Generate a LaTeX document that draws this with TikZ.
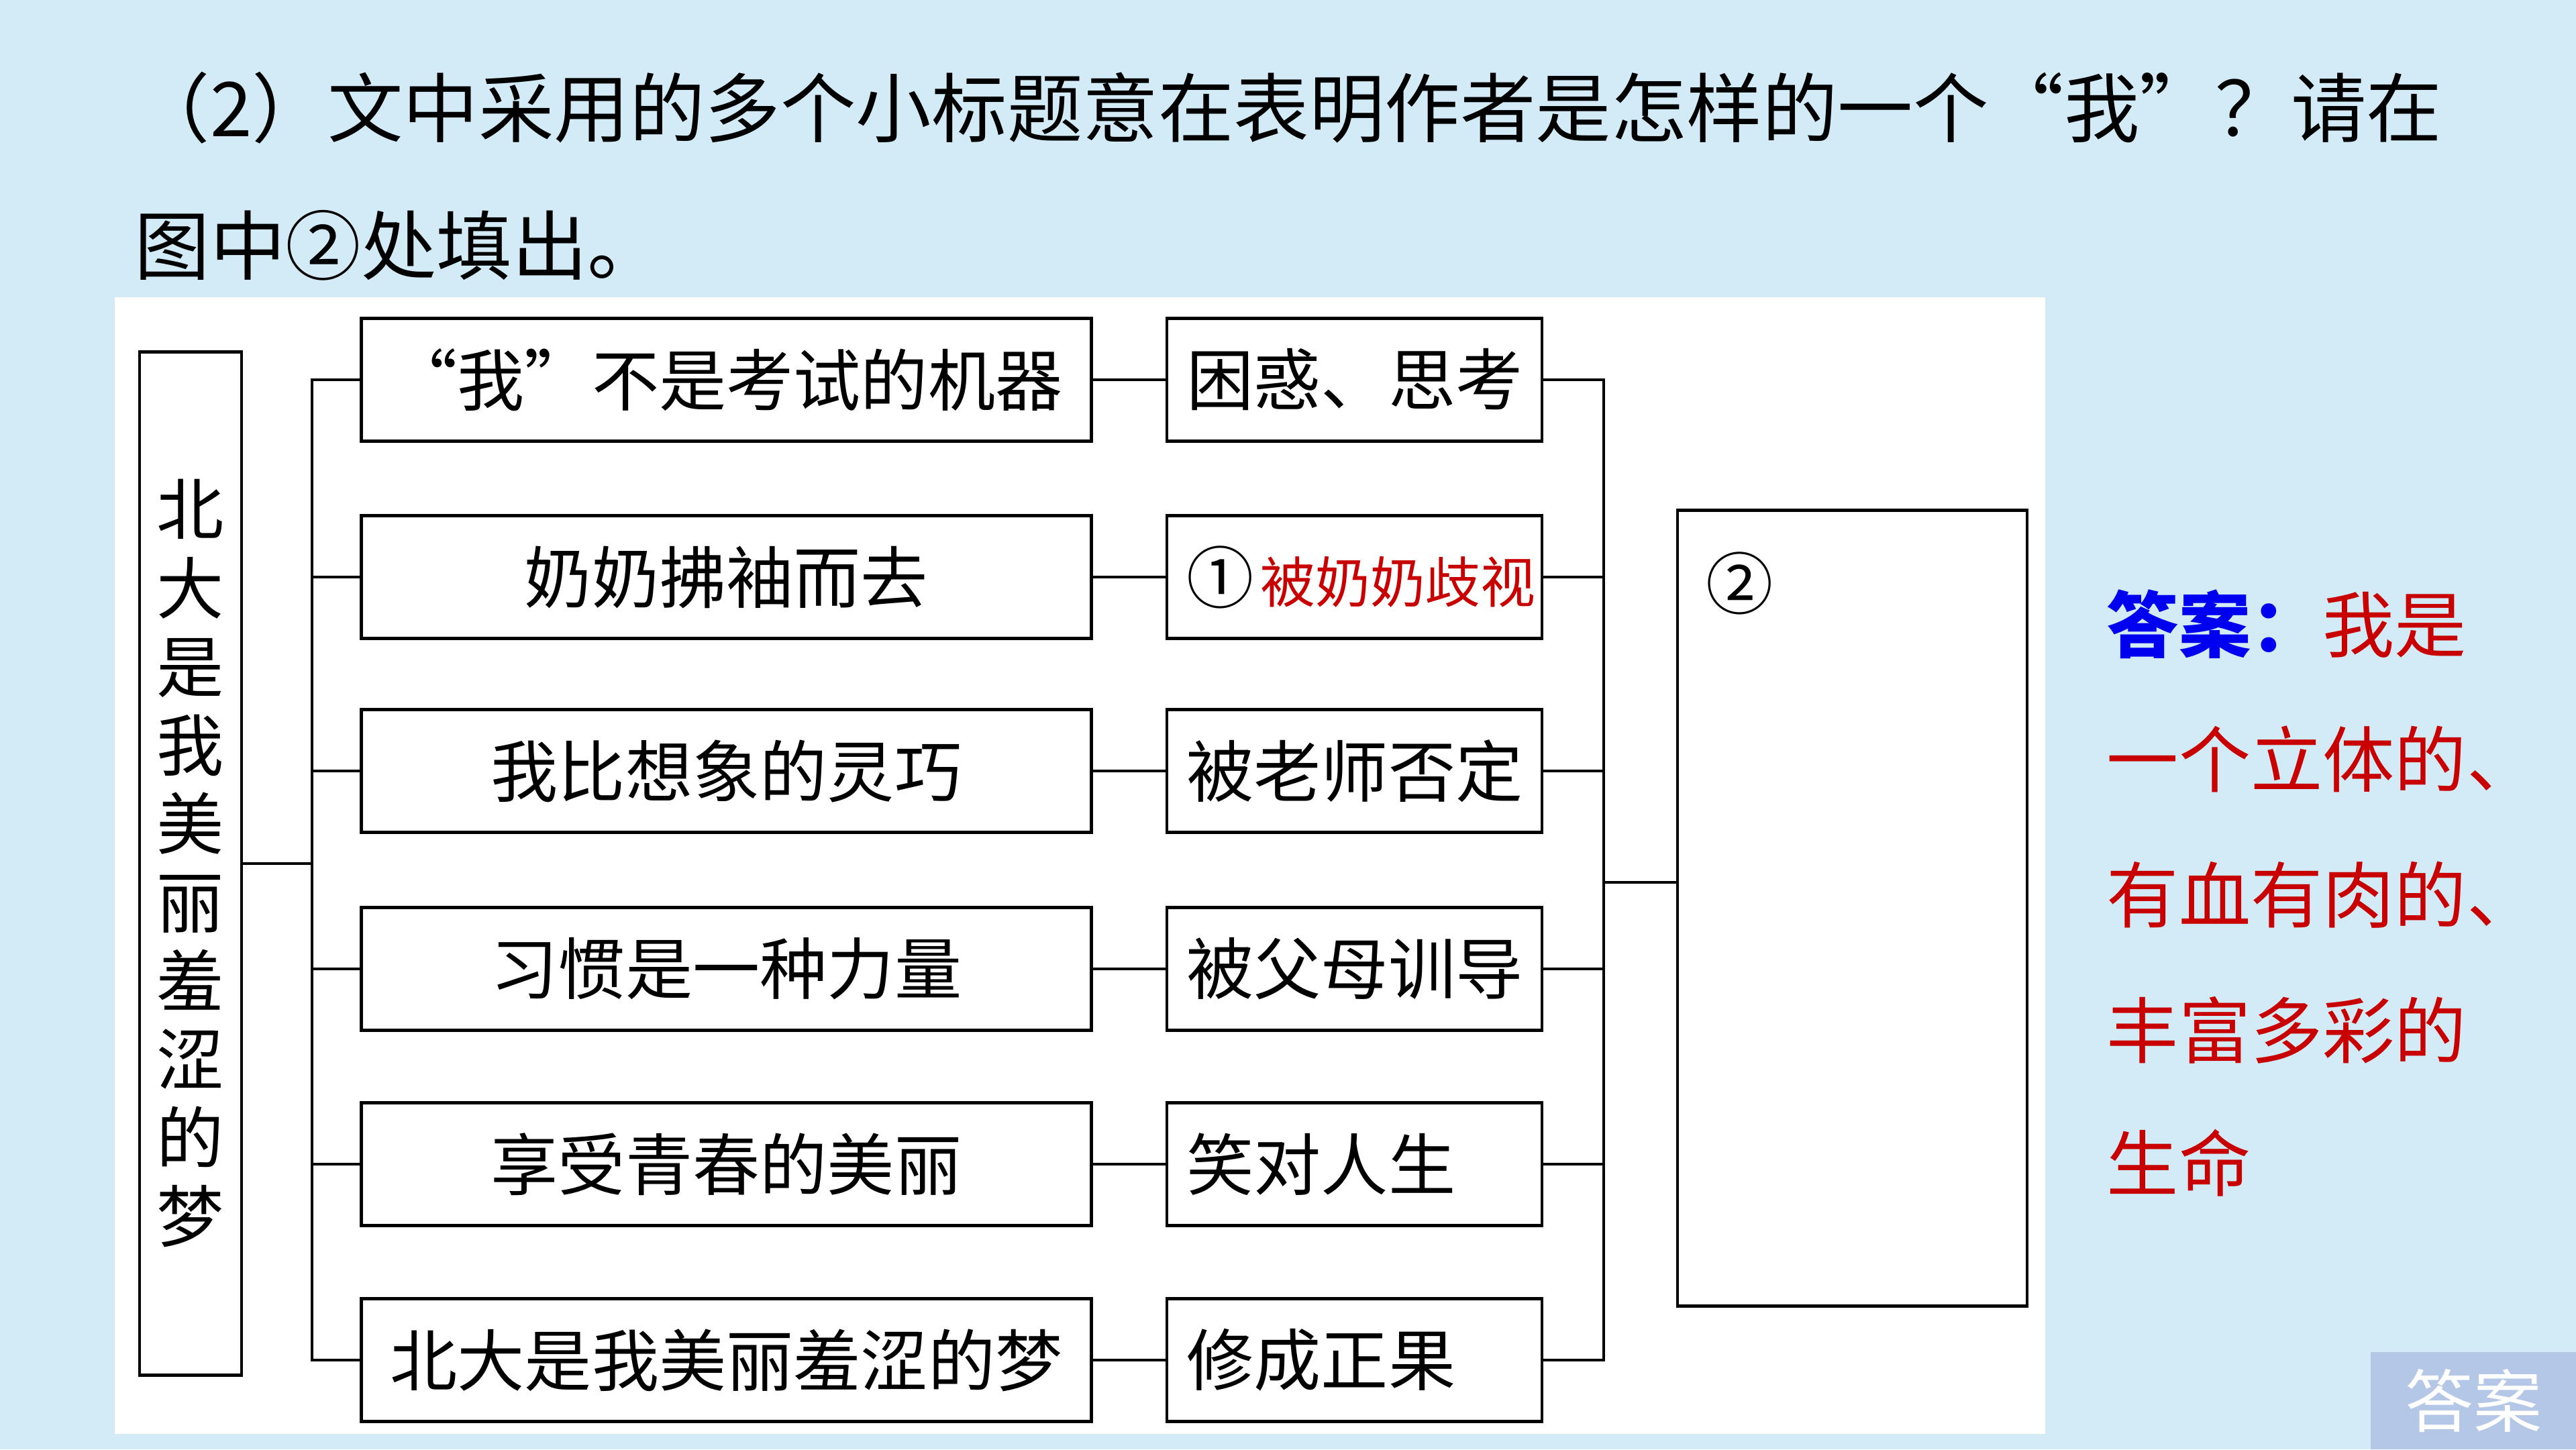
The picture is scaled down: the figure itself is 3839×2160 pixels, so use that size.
\documentclass[tikz,border=0pt]{standalone}
\usepackage{fontspec}
\setmainfont{Noto Sans CJK SC}
\definecolor{bgblue}{RGB}{210,235,246}
\definecolor{ansblue}{RGB}{0,0,240}
\definecolor{ansred}{RGB}{200,0,0}
\definecolor{btnblue}{RGB}{180,199,231}
\begin{document}
\begin{tikzpicture}[x=0.01cm,y=-0.01cm,
  box/.style={draw,line width=1.3pt,inner sep=0pt,fill=white},
  conn/.style={line width=1.2pt},
  midbox/.style={box,minimum width=10.87cm,minimum height=1.83cm,font=\fontsize{28.5pt}{34pt}\selectfont},
  rgtbox/.style={box,minimum width=5.59cm,minimum height=1.83cm,inner xsep=0.295cm,font=\fontsize{28.5pt}{34pt}\selectfont},
  titletext/.style={anchor=base west,inner sep=0pt,font=\fontsize{32pt}{38pt}\selectfont},
  anstext/.style={anchor=west,inner sep=0pt,font=\fontsize{30.5pt}{36pt}\selectfont,text=ansred}
  ]
\fill[bgblue] (0,0) rectangle (3839,2160);
\useasboundingbox (0,0) rectangle (3839,2160);
\fill[white] (171,443) rectangle (3048,2137);

% title
\node[titletext] (t1) at (200,203) {（2）文中采用的多个小标题意在表明作者是怎样的一个“我”？请在};
\node[titletext] (t2) at (200,408) {图中②处填出。};

% left vertical box
\node[box,minimum width=1.52cm,minimum height=15.24cm,align=center,
  font=\fontsize{28.5pt}{33.3pt}\selectfont] (L) at (284,1287)
  {北\\大\\是\\我\\美\\丽\\羞\\涩\\的\\梦};

% middle boxes
\node[midbox] (M1) at (1082.5,566) {“我”不是考试的机器};
\node[midbox] (M2) at (1082.5,860) {奶奶拂袖而去};
\node[midbox] (M3) at (1082.5,1149) {我比想象的灵巧};
\node[midbox] (M4) at (1082.5,1444) {习惯是一种力量};
\node[midbox] (M5) at (1082.5,1735) {享受青春的美丽};
\node[midbox] (M6) at (1082.5,2027) {北大是我美丽羞涩的梦};

% right boxes
\node[rgtbox] (R1) at (2018.5,566) {\makebox[5.0cm][l]{困惑、思考}};
\node[rgtbox] (R2) at (2018.5,860) {\makebox[5.0cm][l]{①\hspace{0.1cm}{\color{ansred}\fontsize{23.3pt}{28pt}\selectfont 被奶奶歧视}}};
\node[rgtbox] (R3) at (2018.5,1149) {\makebox[5.0cm][l]{被老师否定}};
\node[rgtbox] (R4) at (2018.5,1444) {\makebox[5.0cm][l]{被父母训导}};
\node[rgtbox] (R5) at (2018.5,1735) {\makebox[5.0cm][l]{笑对人生}};
\node[rgtbox] (R6) at (2018.5,2027) {\makebox[5.0cm][l]{修成正果}};

% big box
\node[box,minimum width=5.21cm,minimum height=11.85cm] (B) at (2760.5,1353.5) {};
\node[inner sep=0pt,font=\fontsize{28.5pt}{34pt}\selectfont] (c2) at (2593,869) {②};

% connectors
\coordinate (bl) at (465,1287);
\coordinate (br) at (2390,1315);
\draw[conn] (L.east) -- (bl);
\draw[conn] (M1.west) -- (bl |- M1.west) -- (bl |- M6.west) -- (M6.west);
\foreach \i in {2,3,4,5} {\draw[conn] (bl |- M\i.west) -- (M\i.west);}
\foreach \i in {1,...,6} {\draw[conn] (M\i.east) -- (R\i.west);}
\draw[conn] (R1.east) -- (br |- R1.east) -- (br |- R6.east) -- (R6.east);
\foreach \i in {2,3,4,5} {\draw[conn] (R\i.east) -- (br |- R\i.east);}
\draw[conn] (br) -- (B.west |- br);

% answer
\node[anstext] (a1) at (3139,930) {{\bfseries\color{ansblue}答案：}我是};
\node[anstext] (a2) at (3139,1131) {一个立体的、};
\node[anstext] (a3) at (3139,1334) {有血有肉的、};
\node[anstext] (a4) at (3139,1535) {丰富多彩的};
\node[anstext] (a5) at (3139,1733) {生命};

% answer button
\node[fill=btnblue,minimum width=3.06cm,minimum height=1.45cm,inner sep=0pt,text=white,
  font=\fontsize{29pt}{34pt}\selectfont] (btn) at (3686,2087.5) {答案};
\end{tikzpicture}
\end{document}
